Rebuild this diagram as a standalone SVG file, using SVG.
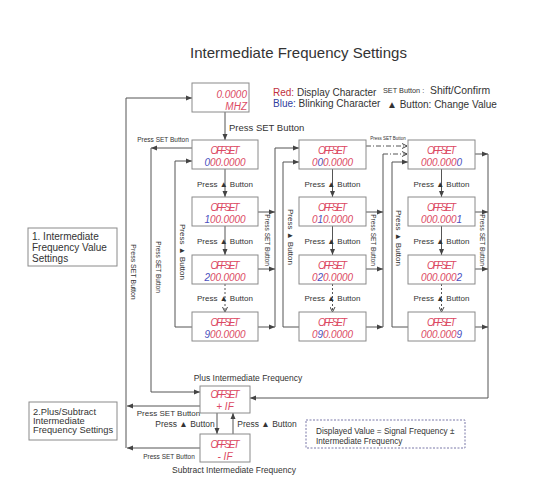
<svg xmlns="http://www.w3.org/2000/svg" width="537" height="502" viewBox="0 0 537 502">
<defs>
<marker id="a" markerUnits="userSpaceOnUse" markerWidth="6" markerHeight="6" refX="6" refY="3" orient="auto"><path d="M0,0.5 L6,3 L0,5.5 z" fill="#444"/></marker>
<marker id="v" markerUnits="userSpaceOnUse" markerWidth="6" markerHeight="6" refX="5" refY="3" orient="auto"><path d="M0,0.5 L5,3 L0,5.5" fill="none" stroke="#444" stroke-width="1"/></marker>
</defs>
<style>
text{font-family:"Liberation Sans",Arial,sans-serif;fill:#333}
.box{fill:#fff;stroke:#8a8a8a;stroke-width:1}
.ln{fill:none;stroke:#555;stroke-width:1}
.ar{fill:none;stroke:#555;stroke-width:1;marker-end:url(#a)}
.dt{fill:none;stroke:#555;stroke-width:1;stroke-dasharray:2 2;marker-end:url(#v)}
.dd{fill:none;stroke:#555;stroke-width:1;stroke-dasharray:5 2 1 2;marker-end:url(#v)}
text.seg{font-style:italic;font-size:10px;fill:#dc4a64;text-anchor:middle}
text.val{font-style:italic;font-size:10px;fill:#dc4a64;text-anchor:middle;letter-spacing:-0.1px}
tspan.r{fill:#dc4a64}
tspan.b{fill:#4a50c0}
.lbl{font-size:8px;text-anchor:middle}
.vt{text-anchor:middle;dominant-baseline:central}
</style>
<rect width="537" height="502" fill="#fff"/>
<text x="298.5" y="58" font-size="15" text-anchor="middle">Intermediate Frequency Settings</text>
<g id="legend">
<text x="273" y="96" font-size="10"><tspan style="fill:#c03040">Red:</tspan> Display Character</text>
<text x="273" y="106.5" font-size="10"><tspan style="fill:#3040a0">Blue:</tspan> Blinking Character</text>
<text x="383" y="93" font-size="7.3">SET Button :</text>
<text x="430" y="94" font-size="10.4">Shift/Confirm</text>
<text x="387" y="108" font-size="10">▲ Button: Change Value</text>
</g>
<g id="connectors">
<path class="ar" d="M126,448 V98 H192"/>
<path class="ar" d="M200,406 H127"/>
<path class="ar" d="M200,448 H127"/>
<path class="ar" d="M225,112 V140"/>
<path class="ar" d="M192,148 H151"/>
<path class="ar" d="M151,148 V392 H200"/>
<path class="ar" d="M192,327 H175 V161 H192"/>
<path class="ar" d="M225,169 V197"/>
<path class="ar" d="M225,226 V255"/>
<path class="dt" d="M225,284 V312"/>
<path class="ar" d="M258,212 H275"/>
<path class="ar" d="M258,269 H275"/>
<path class="ar" d="M258,327 H275"/>
<path class="ar" d="M275,327 V148 H299"/>
<path class="ar" d="M299,327 H283 V162 H299"/>
<path class="ar" d="M332.5,169 V197"/>
<path class="ar" d="M332.5,226 V255"/>
<path class="dt" d="M332.5,284 V312"/>
<path class="ar" d="M366,212 H383"/>
<path class="ar" d="M366,269 H383"/>
<path class="ar" d="M366,327 H383"/>
<path class="ln" d="M383,327 V154"/>
<path class="dd" d="M383,154 H407"/>
<path class="dd" d="M366,146 H407"/>
<path class="ar" d="M408,327 H392 V162 H408"/>
<path class="ar" d="M441.5,169 V197"/>
<path class="ar" d="M441.5,226 V255"/>
<path class="dt" d="M441.5,284 V312"/>
<path class="ar" d="M475,154 H488"/>
<path class="ar" d="M475,212 H488"/>
<path class="ar" d="M475,269 H488"/>
<path class="ar" d="M475,327 H488"/>
<path class="ar" d="M488,154 V398 H250"/>
<path class="ar" d="M217,413 V434"/>
<path class="ar" d="M233,434 V413"/>
</g>
<g id="conn-labels">
<text x="229" y="131" font-size="9.5">Press SET Button</text>
<text x="163" y="142" font-size="6.5" text-anchor="middle">Press SET Button</text>
<text x="388" y="140" font-size="4.5" text-anchor="middle">Press SET Button</text>
<text class="lbl" x="225" y="186.5">Press ▲ Button</text>
<text class="lbl" x="225" y="244">Press ▲ Button</text>
<text class="lbl" x="225" y="301">Press ▲ Button</text>
<text class="lbl" x="332.5" y="186.5">Press ▲ Button</text>
<text class="lbl" x="332.5" y="244">Press ▲ Button</text>
<text class="lbl" x="332.5" y="301">Press ▲ Button</text>
<text class="lbl" x="441.5" y="186.5">Press ▲ Button</text>
<text class="lbl" x="441.5" y="244">Press ▲ Button</text>
<text class="lbl" x="441.5" y="301">Press ▲ Button</text>
<text class="vt" font-size="7" transform="translate(133,272) rotate(90)">Press SET Button</text>
<text class="vt" font-size="6.5" transform="translate(158,267) rotate(90)">Press SET Button</text>
<text class="vt" font-size="8" transform="translate(182,252) rotate(90)">Press ▲ Button</text>
<text class="vt" font-size="8" transform="translate(290,237) rotate(90)">Press ▲ Button</text>
<text class="vt" font-size="8" transform="translate(398,238) rotate(90)">Press ▲ Button</text>
<text class="vt" font-size="6.5" transform="translate(267,240) rotate(90)">Press SET Button</text>
<text class="vt" font-size="6.5" transform="translate(373,240) rotate(90)">Press SET Button</text>
<text class="vt" font-size="6.5" transform="translate(482,240) rotate(90)">Press SET Button</text>
<text x="248" y="381" font-size="8.5" text-anchor="middle">Plus Intermediate Frequency</text>
<text x="234" y="473" font-size="8.5" text-anchor="middle">Subtract Intermediate Frequency</text>
<text x="168.5" y="416" font-size="8" text-anchor="middle">Press SET Button</text>
<text x="169" y="459" font-size="6.5" text-anchor="middle">Press SET Button</text>
<text x="185" y="427" font-size="8.5" text-anchor="middle">Press ▲ Button</text>
<text x="267" y="427" font-size="8.5" text-anchor="middle">Press ▲ Button</text>
</g>
<g id="n-top"><rect class="box" x="192" y="83" width="57" height="29"/>
<text class="seg" x="247" y="98" style="text-anchor:end" font-size="9.5">0.0000</text>
<text class="seg" x="247" y="110" style="text-anchor:end" font-size="9">MHZ</text></g>
<g id="n-c1r1"><rect class="box" x="192" y="140" width="66" height="29"/><text class="seg" x="225" y="153.5" textLength="29">OFFSET</text><text class="val" x="225" y="166"><tspan class="b">0</tspan><tspan class="r">00.0000</tspan></text></g>
<g id="n-c1r2"><rect class="box" x="192" y="197" width="66" height="29"/><text class="seg" x="225" y="210.5" textLength="29">OFFSET</text><text class="val" x="225" y="223"><tspan class="b">1</tspan><tspan class="r">00.0000</tspan></text></g>
<g id="n-c1r3"><rect class="box" x="192" y="255" width="66" height="29"/><text class="seg" x="225" y="268.5" textLength="29">OFFSET</text><text class="val" x="225" y="281"><tspan class="b">2</tspan><tspan class="r">00.0000</tspan></text></g>
<g id="n-c1r4"><rect class="box" x="192" y="312" width="66" height="29"/><text class="seg" x="225" y="325.5" textLength="29">OFFSET</text><text class="val" x="225" y="338"><tspan class="b">9</tspan><tspan class="r">00.0000</tspan></text></g>
<g id="n-c2r1"><rect class="box" x="299" y="140" width="67" height="29"/><text class="seg" x="332.5" y="153.5" textLength="29">OFFSET</text><text class="val" x="332.5" y="166"><tspan class="r">0</tspan><tspan class="b">0</tspan><tspan class="r">0.0000</tspan></text></g>
<g id="n-c2r2"><rect class="box" x="299" y="197" width="67" height="29"/><text class="seg" x="332.5" y="210.5" textLength="29">OFFSET</text><text class="val" x="332.5" y="223"><tspan class="r">0</tspan><tspan class="b">1</tspan><tspan class="r">0.0000</tspan></text></g>
<g id="n-c2r3"><rect class="box" x="299" y="255" width="67" height="29"/><text class="seg" x="332.5" y="268.5" textLength="29">OFFSET</text><text class="val" x="332.5" y="281"><tspan class="r">0</tspan><tspan class="b">2</tspan><tspan class="r">0.0000</tspan></text></g>
<g id="n-c2r4"><rect class="box" x="299" y="312" width="67" height="29"/><text class="seg" x="332.5" y="325.5" textLength="29">OFFSET</text><text class="val" x="332.5" y="338"><tspan class="r">0</tspan><tspan class="b">9</tspan><tspan class="r">0.0000</tspan></text></g>
<g id="n-c3r1"><rect class="box" x="408" y="140" width="67" height="29"/><text class="seg" x="441.5" y="153.5" textLength="29">OFFSET</text><text class="val" x="441.5" y="166"><tspan class="r">000.000</tspan><tspan class="b">0</tspan></text></g>
<g id="n-c3r2"><rect class="box" x="408" y="197" width="67" height="29"/><text class="seg" x="441.5" y="210.5" textLength="29">OFFSET</text><text class="val" x="441.5" y="223"><tspan class="r">000.000</tspan><tspan class="b">1</tspan></text></g>
<g id="n-c3r3"><rect class="box" x="408" y="255" width="67" height="29"/><text class="seg" x="441.5" y="268.5" textLength="29">OFFSET</text><text class="val" x="441.5" y="281"><tspan class="r">000.000</tspan><tspan class="b">2</tspan></text></g>
<g id="n-c3r4"><rect class="box" x="408" y="312" width="67" height="29"/><text class="seg" x="441.5" y="325.5" textLength="29">OFFSET</text><text class="val" x="441.5" y="338"><tspan class="r">000.000</tspan><tspan class="b">9</tspan></text></g>
<g id="n-plus"><rect class="box" x="200" y="386" width="50" height="27"/><text class="seg" x="225" y="397.5" textLength="29">OFFSET</text><text class="seg" x="225" y="410">+ IF</text></g>
<g id="n-minus"><rect class="box" x="200" y="434" width="50" height="28"/><text class="seg" x="225" y="447.5" textLength="29">OFFSET</text><text class="seg" x="225" y="460">- IF</text></g>
<g id="n-sec1"><rect class="box" x="28" y="228" width="89" height="38"/>
<text x="32" y="240" font-size="10">1. Intermediate</text>
<text x="32" y="251" font-size="10">Frequency Value</text>
<text x="32" y="262" font-size="10">Settings</text></g>
<g id="n-sec2"><rect class="box" x="29" y="402" width="88" height="38"/>
<text x="33" y="415" font-size="9.3">2.Plus/Subtract</text>
<text x="33" y="423.5" font-size="9.3">Intermediate</text>
<text x="33" y="432.5" font-size="9.3">Frequency Settings</text></g>
<g id="n-note"><rect x="306" y="420" width="159" height="28" fill="#fff" stroke="#7a78a8" stroke-width="1" stroke-dasharray="2 1.5"/>
<text x="316" y="433.5" font-size="8.2">Displayed Value = Signal Frequency ±</text>
<text x="316" y="443.5" font-size="8.2">Intermediate Frequency</text></g>
</svg>
